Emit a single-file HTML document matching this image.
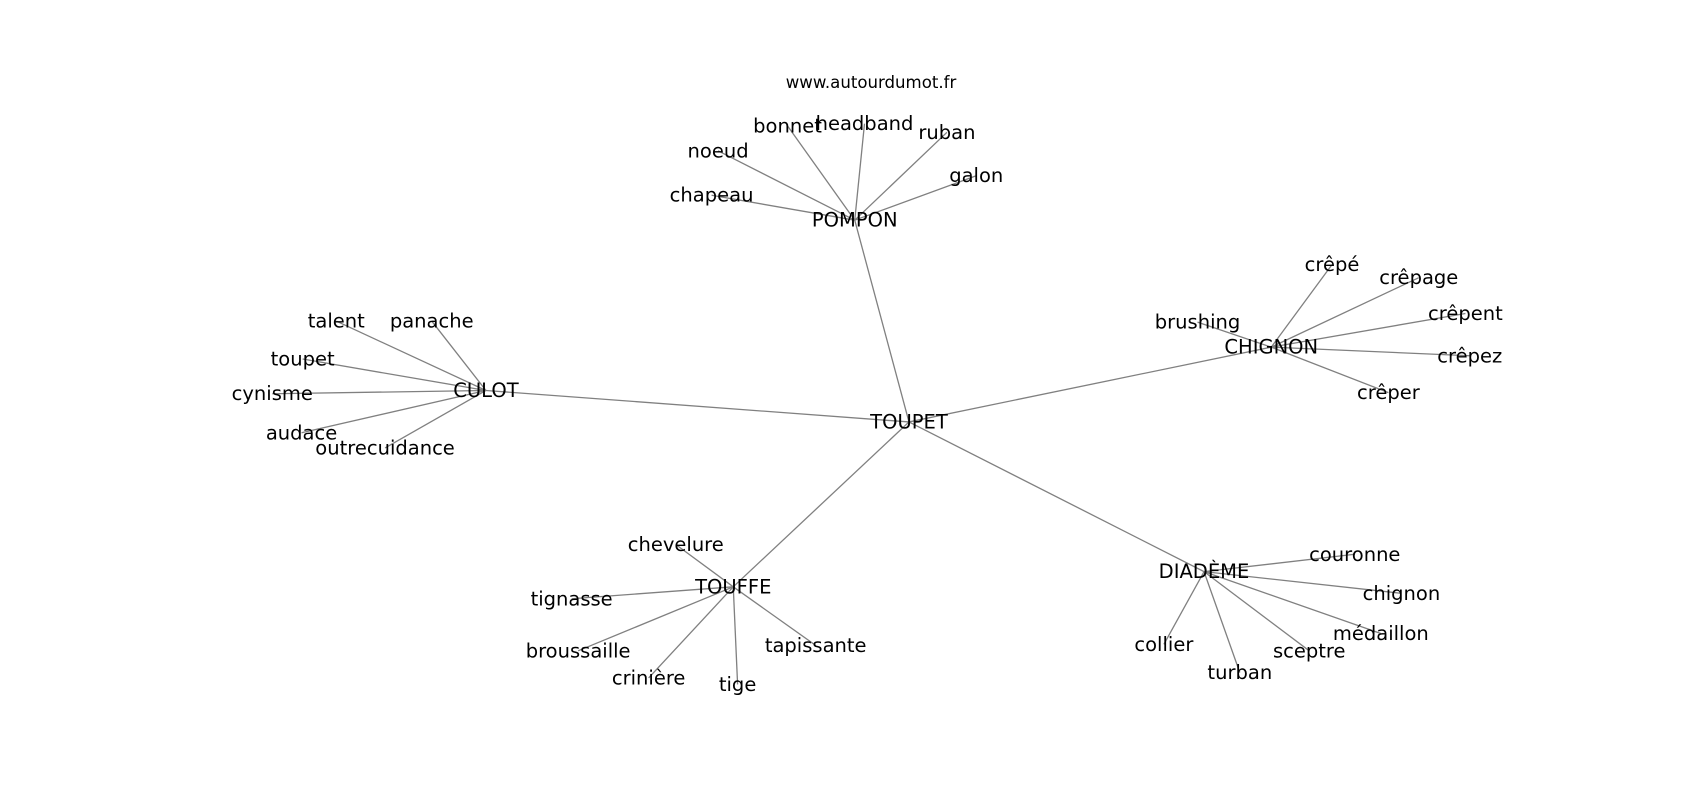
<!DOCTYPE html>
<html><head><meta charset="utf-8"><style>
html,body{margin:0;padding:0;background:#fff;}
svg text{font-family:"DejaVu Sans","Liberation Sans",sans-serif;font-size:18px;fill:#000;text-anchor:middle;dominant-baseline:central;}
</style></head><body>
<svg width="1700" height="800" xmlns="http://www.w3.org/2000/svg">
<g transform="scale(1.0847)">
<g stroke="#808080" stroke-width="1.2" fill="none">
<line x1="838" y1="389" x2="788" y2="203"/>
<line x1="838" y1="389" x2="448" y2="360"/>
<line x1="838" y1="389" x2="1172" y2="320"/>
<line x1="838" y1="389" x2="676" y2="541"/>
<line x1="838" y1="389" x2="1110" y2="527"/>
<line x1="788" y1="203" x2="656" y2="180"/>
<line x1="788" y1="203" x2="662" y2="139"/>
<line x1="788" y1="203" x2="726" y2="116"/>
<line x1="788" y1="203" x2="797" y2="114"/>
<line x1="788" y1="203" x2="873" y2="122"/>
<line x1="788" y1="203" x2="900" y2="162"/>
<line x1="448" y1="360" x2="310" y2="296"/>
<line x1="448" y1="360" x2="398" y2="296"/>
<line x1="448" y1="360" x2="279" y2="331"/>
<line x1="448" y1="360" x2="251" y2="363"/>
<line x1="448" y1="360" x2="278" y2="399"/>
<line x1="448" y1="360" x2="355" y2="413"/>
<line x1="1172" y1="320" x2="1104" y2="297"/>
<line x1="1172" y1="320" x2="1228" y2="244"/>
<line x1="1172" y1="320" x2="1308" y2="256"/>
<line x1="1172" y1="320" x2="1351" y2="289"/>
<line x1="1172" y1="320" x2="1355" y2="328"/>
<line x1="1172" y1="320" x2="1280" y2="362"/>
<line x1="676" y1="541" x2="623" y2="502"/>
<line x1="676" y1="541" x2="527" y2="552"/>
<line x1="676" y1="541" x2="533" y2="600"/>
<line x1="676" y1="541" x2="598" y2="625"/>
<line x1="676" y1="541" x2="680" y2="631"/>
<line x1="676" y1="541" x2="752" y2="595"/>
<line x1="1110" y1="527" x2="1249" y2="511"/>
<line x1="1110" y1="527" x2="1292" y2="547"/>
<line x1="1110" y1="527" x2="1273" y2="584"/>
<line x1="1110" y1="527" x2="1207" y2="600"/>
<line x1="1110" y1="527" x2="1143" y2="620"/>
<line x1="1110" y1="527" x2="1073" y2="594"/>
</g>
<text x="803" y="76" style="font-size:15.3px">www.autourdumot.fr</text>
<text x="838" y="389">TOUPET</text>
<text x="788" y="203">POMPON</text>
<text x="448" y="360">CULOT</text>
<text x="1172" y="320">CHIGNON</text>
<text x="676" y="541">TOUFFE</text>
<text x="1110" y="527">DIADÈME</text>
<text x="656" y="180">chapeau</text>
<text x="662" y="139">noeud</text>
<text x="726" y="116">bonnet</text>
<text x="797" y="114">headband</text>
<text x="873" y="122">ruban</text>
<text x="900" y="162">galon</text>
<text x="310" y="296">talent</text>
<text x="398" y="296">panache</text>
<text x="279" y="331">toupet</text>
<text x="251" y="363">cynisme</text>
<text x="278" y="399">audace</text>
<text x="355" y="413">outrecuidance</text>
<text x="1104" y="297">brushing</text>
<text x="1228" y="244">crêpé</text>
<text x="1308" y="256">crêpage</text>
<text x="1351" y="289">crêpent</text>
<text x="1355" y="328">crêpez</text>
<text x="1280" y="362">crêper</text>
<text x="623" y="502">chevelure</text>
<text x="527" y="552">tignasse</text>
<text x="533" y="600">broussaille</text>
<text x="598" y="625">crinière</text>
<text x="680" y="631">tige</text>
<text x="752" y="595">tapissante</text>
<text x="1249" y="511">couronne</text>
<text x="1292" y="547">chignon</text>
<text x="1273" y="584">médaillon</text>
<text x="1207" y="600">sceptre</text>
<text x="1143" y="620">turban</text>
<text x="1073" y="594">collier</text>
</g>
</svg>
</body></html>
